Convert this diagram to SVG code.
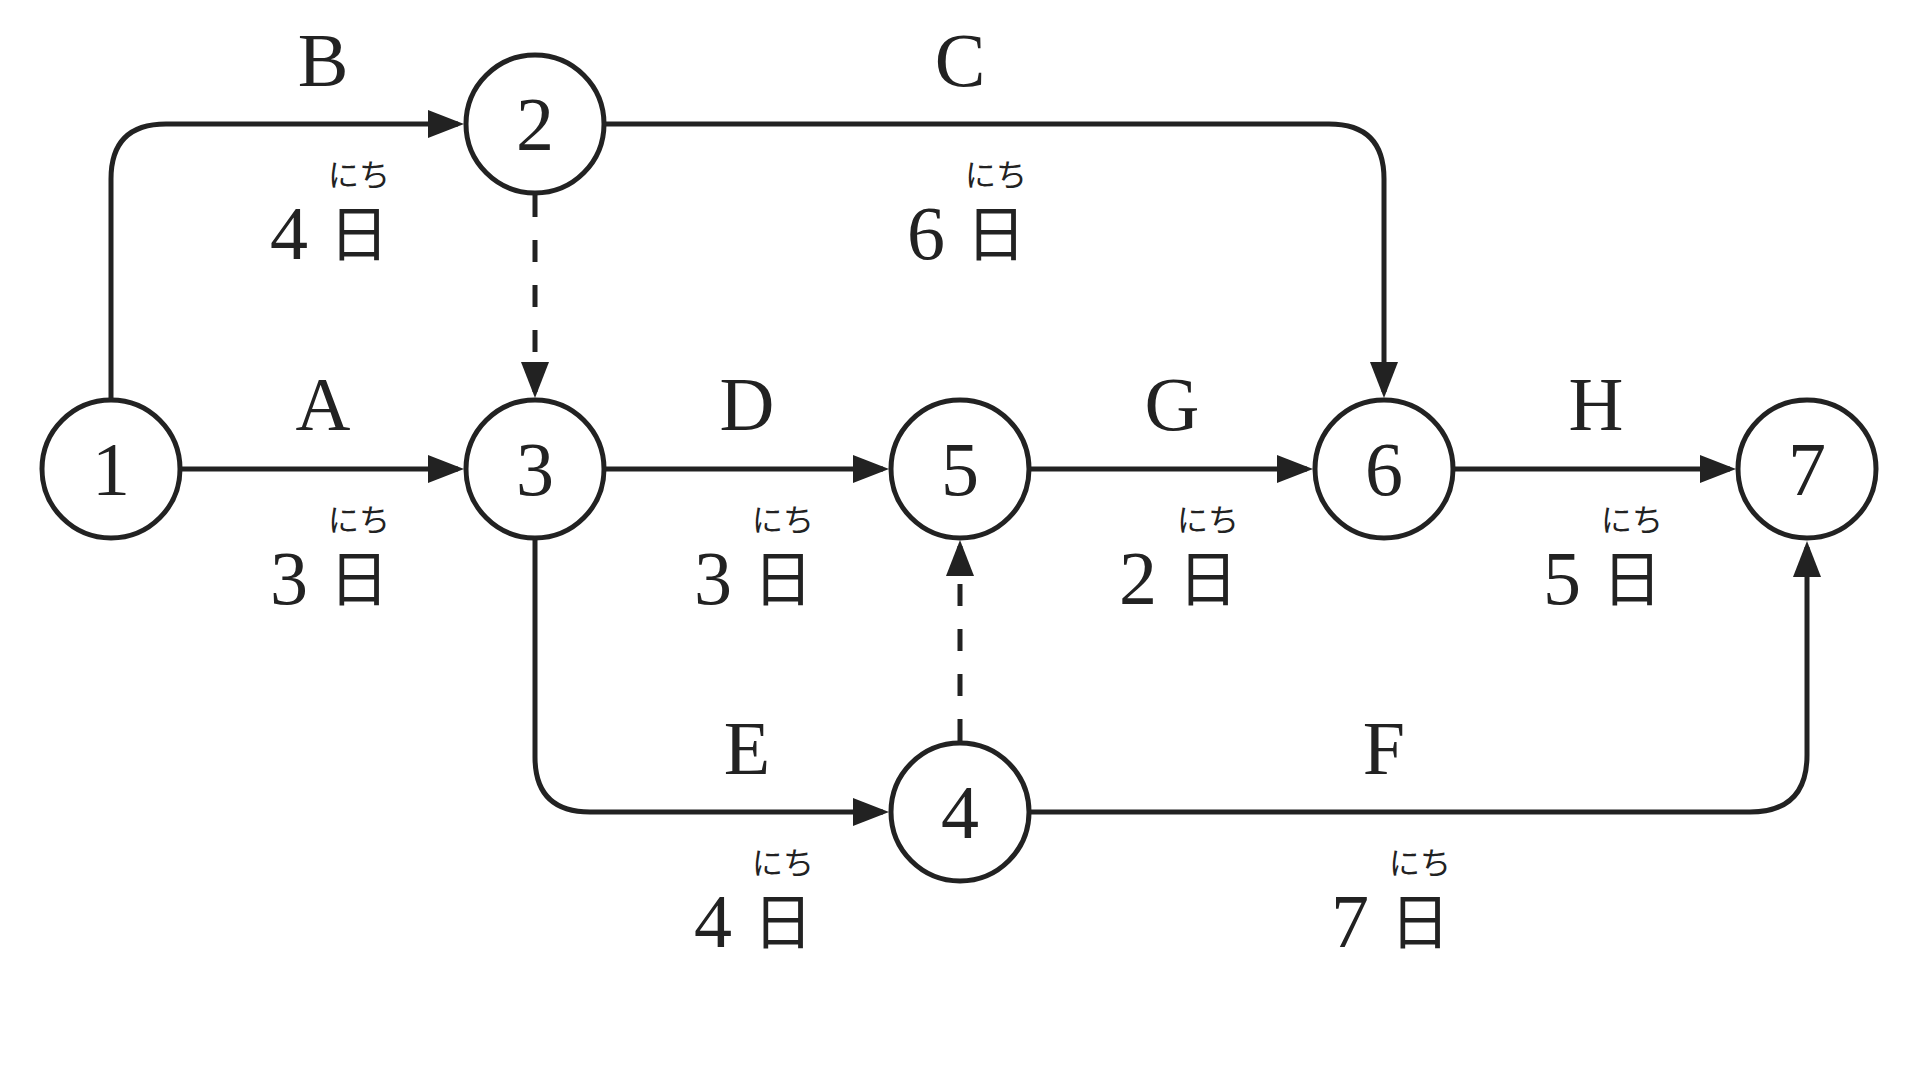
<svg xmlns="http://www.w3.org/2000/svg" width="1920" height="1080" viewBox="0 0 1920 1080">
<defs>
<marker id="arr" markerUnits="userSpaceOnUse" viewBox="0 0 36 28" refX="30" refY="14" markerWidth="36" markerHeight="28" orient="auto">
<path d="M0,0 L36,14 L0,28 z" fill="#222"/>
</marker>
</defs>
<style>
.edge{fill:none;stroke:#222;stroke-width:5;marker-end:url(#arr)}
.dash{stroke-dasharray:22 23}
.node circle{fill:#fff;stroke:#222;stroke-width:5}
.num{font-family:"Liberation Serif",serif;font-size:76px;fill:#222;text-anchor:middle}
.lbl{font-family:"Liberation Serif",serif;font-size:76px;fill:#222;text-anchor:middle}
.day{font-family:"Noto Sans CJK JP",sans-serif;font-size:60px;fill:#222;text-anchor:middle}
.ruby{font-family:"Noto Sans CJK JP",sans-serif;font-size:31px;fill:#222;text-anchor:middle}
</style>
<rect width="1920" height="1080" fill="#fff"/>
<g id="connectors">
<path class="edge" d="M182,469 H458"/>
<path class="edge" d="M111,398 V179 Q111,124 166,124 H458"/>
<path class="edge" d="M606,124 H1329 Q1384,124 1384,179 V392"/>
<path class="edge dash" d="M535,195 V392"/>
<path class="edge" d="M606,469 H883"/>
<path class="edge" d="M1031,469 H1307"/>
<path class="edge" d="M1455,469 H1730"/>
<path class="edge" d="M535,540 V757 Q535,812 590,812 H883"/>
<path class="edge" d="M1031,812 H1750 Q1807,812 1807,755 V547"/>
<path class="edge dash" d="M960,741 V546"/>
</g>
<g id="node1" class="node"><circle cx="111" cy="469" r="69"/><text class="num" x="111" y="495">1</text></g>
<g id="node2" class="node"><circle cx="535" cy="124" r="69"/><text class="num" x="535" y="150">2</text></g>
<g id="node3" class="node"><circle cx="535" cy="469" r="69"/><text class="num" x="535" y="495">3</text></g>
<g id="node4" class="node"><circle cx="960" cy="812" r="69"/><text class="num" x="960" y="838">4</text></g>
<g id="node5" class="node"><circle cx="960" cy="469" r="69"/><text class="num" x="960" y="495">5</text></g>
<g id="node6" class="node"><circle cx="1384" cy="469" r="69"/><text class="num" x="1384" y="495">6</text></g>
<g id="node7" class="node"><circle cx="1807" cy="469" r="69"/><text class="num" x="1807" y="495">7</text></g>
<g id="labels">
<text class="lbl" x="323" y="86">B</text>
<text class="lbl" x="289" y="259">4</text><text class="day" x="359" y="256">日</text><text class="ruby" x="359" y="186">にち</text>
<text class="lbl" x="960" y="86">C</text>
<text class="lbl" x="926" y="259">6</text><text class="day" x="996" y="256">日</text><text class="ruby" x="996" y="186">にち</text>
<text class="lbl" x="323" y="430">A</text>
<text class="lbl" x="289" y="604">3</text><text class="day" x="359" y="601">日</text><text class="ruby" x="359" y="531">にち</text>
<text class="lbl" x="747" y="430">D</text>
<text class="lbl" x="713" y="604">3</text><text class="day" x="783" y="601">日</text><text class="ruby" x="783" y="531">にち</text>
<text class="lbl" x="1172" y="430">G</text>
<text class="lbl" x="1138" y="604">2</text><text class="day" x="1208" y="601">日</text><text class="ruby" x="1208" y="531">にち</text>
<text class="lbl" x="1596" y="430">H</text>
<text class="lbl" x="1562" y="604">5</text><text class="day" x="1632" y="601">日</text><text class="ruby" x="1632" y="531">にち</text>
<text class="lbl" x="747" y="774">E</text>
<text class="lbl" x="713" y="947">4</text><text class="day" x="783" y="944">日</text><text class="ruby" x="783" y="874">にち</text>
<text class="lbl" x="1384" y="774">F</text>
<text class="lbl" x="1350" y="947">7</text><text class="day" x="1420" y="944">日</text><text class="ruby" x="1420" y="874">にち</text>
</g>
</svg>
